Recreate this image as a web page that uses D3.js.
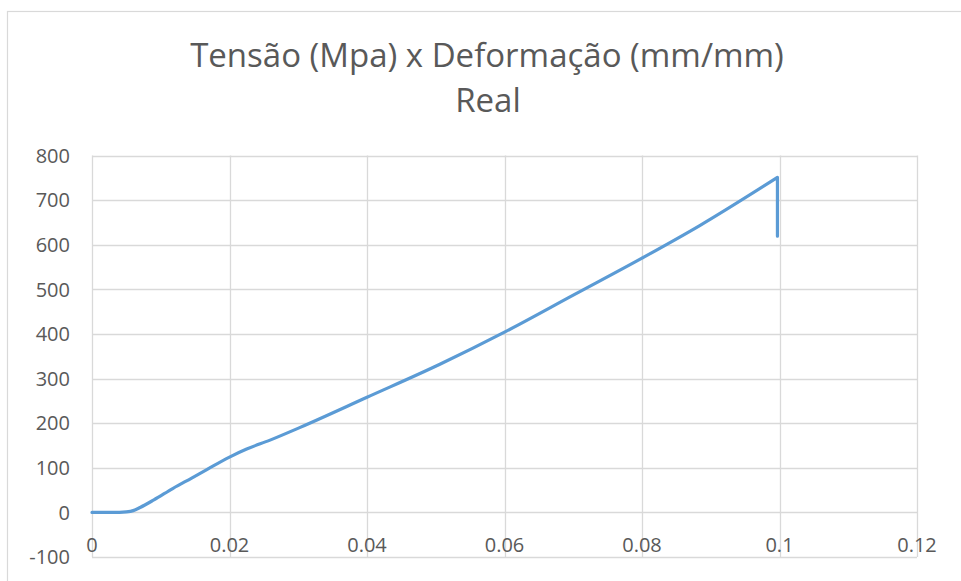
<!DOCTYPE html>
<html><head><meta charset="utf-8">
<script src="https://cdn.jsdelivr.net/npm/d3@7/dist/d3.min.js"></script>
<style>
html,body{margin:0;padding:0;background:#fff;}
svg{display:block;}
text{font-family:"Open Sans",sans-serif;fill:#595959;}
</style></head>
<body>
<svg id="chart" width="961" height="581"></svg>
<script>
const titleLines = ["Tensão (Mpa) x Deformação (mm/mm)", "Real"];
const strain = [0, 0.002, 0.004, 0.005, 0.006, 0.007, 0.009, 0.0118, 0.0145, 0.0167, 0.02, 0.0225, 0.0259, 0.0302, 0.04, 0.0506, 0.06, 0.07, 0.08, 0.0884, 0.0997, 0.0997];
const stress = [0, 0, 0, 1, 4, 11, 28, 54, 77, 96, 124, 142, 162, 190, 258, 332, 404, 487, 570, 643, 751, 619];
const xTicks = [0, 0.02, 0.04, 0.06, 0.08, 0.1, 0.12];
const yTicks = [-100, 0, 100, 200, 300, 400, 500, 600, 700, 800];

(function () {
const svg = d3.select("#chart");
const pLeft = 92, pRight = 917, pTop = 155.5, pBottom = 557;

// chart border
svg.append("rect").attr("x", 7.5).attr("y", 11.5).attr("width", 960).attr("height", 580)
  .attr("fill", "none").attr("stroke", "#d9d9d9").attr("stroke-width", 1.2);

const x = d3.scaleLinear().domain([0, 0.12]).range([pLeft, pRight]);
const y = d3.scaleLinear().domain([-100, 800]).range([pBottom, pTop]);

// gridlines
const g = svg.append("g");
g.selectAll(".hg").data(yTicks).join("line")
  .attr("x1", pLeft).attr("x2", pRight)
  .attr("y1", d => Math.round(y(d)) + 0.5).attr("y2", d => Math.round(y(d)) + 0.5)
  .attr("stroke", "#d9d9d9").attr("stroke-width", 1.3);
g.selectAll(".vg").data(xTicks).join("line")
  .attr("y1", pTop).attr("y2", pBottom)
  .attr("x1", d => Math.round(x(d)) + 0.5).attr("x2", d => Math.round(x(d)) + 0.5)
  .attr("stroke", "#d9d9d9").attr("stroke-width", 1.3);

// y labels
svg.selectAll(".yl").data(yTicks).join("text")
  .attr("x", 70).attr("y", d => y(d)).attr("dy", "0.36em")
  .attr("text-anchor", "end").attr("font-size", 20)
  .text(d => String(d));

// x labels
svg.selectAll(".xl").data(xTicks).join("text")
  .attr("x", d => x(d)).attr("y", 552)
  .attr("text-anchor", "middle").attr("font-size", 20)
  .text(d => d === 0 ? "0" : String(+d.toFixed(2)));

// line: smooth rising part + vertical drop at rupture
const pts = strain.map((s, i) => [s, stress[i]]);
const n = pts.length;
const smooth = d3.line().x(d => x(d[0])).y(d => y(d[1])).curve(d3.curveMonotoneX);
const straight = d3.line().x(d => x(d[0])).y(d => y(d[1]));
const dPath = smooth(pts.slice(0, n - 1)) + straight(pts.slice(n - 2)).replace(/^M[^L]*/, "");
svg.append("path").attr("d", dPath)
  .attr("fill", "none").attr("stroke", "#5b9bd5").attr("stroke-width", 3.2)
  .attr("stroke-linejoin", "round").attr("stroke-linecap", "round");

// title
svg.append("text").attr("x", 487).attr("y", 67).attr("text-anchor", "middle")
  .attr("font-size", 33).text(titleLines[0]);
svg.append("text").attr("x", 488).attr("y", 112).attr("text-anchor", "middle")
  .attr("font-size", 33).text(titleLines[1]);
})();
</script>
</body></html>
